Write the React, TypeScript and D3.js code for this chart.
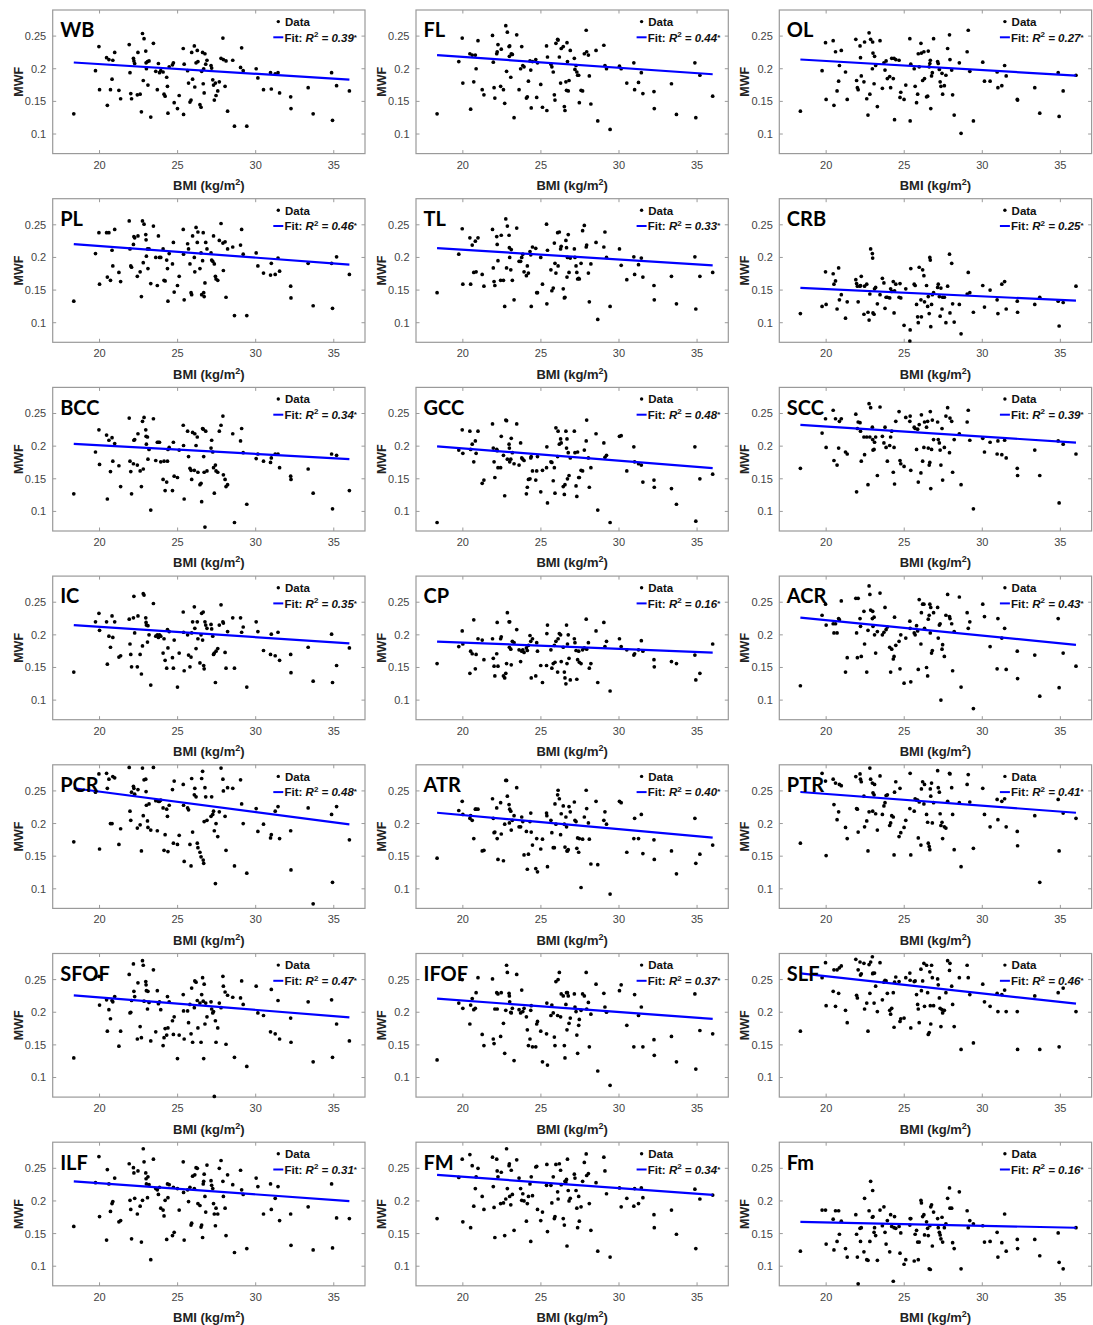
import React from 'react';
import * as d3 from 'd3';

// Shared BMI values (same subjects in each panel)
const BMI = [
  18.35,
  19.74, 19.96, 20.0, 20.45, 20.5, 20.6, 20.7, 20.8, 20.85, 20.97, 21.24, 21.35,
  21.9, 21.95, 22.0, 22.05, 22.17, 22.2, 22.25, 22.42, 22.46, 22.6, 22.68, 22.75, 22.8, 22.85, 22.96, 22.98, 23.0, 23.07, 23.1, 23.17, 23.28,
  23.45, 23.6, 23.7, 23.77, 23.84, 23.92, 24.07, 24.13, 24.2, 24.3, 24.35, 24.38, 24.46, 24.67, 24.73, 24.78, 24.99, 25.1,
  25.36, 25.42, 25.38, 25.64, 25.7, 25.79, 25.86, 25.9, 25.96, 26.07, 26.1, 26.18, 26.26, 26.3, 26.43, 26.5, 26.54, 26.6, 26.64, 26.67, 26.7, 26.75, 26.8, 26.88,
  27.14, 27.18, 27.25, 27.3, 27.35, 27.42, 27.46, 27.57, 27.67, 27.78, 27.9, 27.93, 28.04, 28.1, 28.2, 28.53, 28.64,
  29.03, 29.1, 29.2, 29.43, 30.03, 30.14, 30.5, 30.95, 31.0, 31.25, 31.43, 31.53, 32.24, 32.26, 33.36, 33.68, 34.86, 34.92, 35.18, 36.0,
];

const WB = [
  0.131,
  0.197, 0.234, 0.168, 0.217, 0.144, 0.214, 0.168, 0.184, 0.213, 0.225, 0.167, 0.154,
  0.237, 0.194, 0.162, 0.154, 0.216, 0.212, 0.208, 0.160, 0.225, 0.161, 0.134, 0.254, 0.182, 0.246, 0.227, 0.209, 0.200, 0.211, 0.175, 0.212, 0.126,
  0.239, 0.196, 0.168, 0.208, 0.194, 0.197, 0.195, 0.161, 0.158, 0.187, 0.173, 0.132, 0.203, 0.206, 0.209, 0.148, 0.139, 0.159,
  0.231, 0.207, 0.130, 0.197, 0.178, 0.149, 0.152, 0.225, 0.184, 0.235, 0.172, 0.209, 0.228, 0.211, 0.145, 0.141, 0.196, 0.225, 0.177, 0.200, 0.163, 0.223, 0.207, 0.213,
  0.205, 0.201, 0.183, 0.175, 0.152, 0.178, 0.159, 0.166, 0.180, 0.216, 0.247, 0.214, 0.173, 0.212, 0.135, 0.213, 0.112,
  0.202, 0.232, 0.197, 0.112, 0.200, 0.186, 0.168, 0.194, 0.169, 0.192, 0.194, 0.163, 0.157, 0.139, 0.171, 0.131, 0.194, 0.121, 0.174, 0.166,
];
const FL = [
  0.131,
  0.211, 0.247, 0.178, 0.223, 0.138, 0.221, 0.180, 0.221, 0.200, 0.243, 0.168, 0.160,
  0.251, 0.210, 0.171, 0.155, 0.223, 0.226, 0.237, 0.173, 0.230, 0.168, 0.147, 0.266, 0.196, 0.256, 0.234, 0.219, 0.235, 0.187, 0.223, 0.222, 0.125,
  0.252, 0.168, 0.200, 0.234, 0.205, 0.203, 0.155, 0.157, 0.181, 0.212, 0.198, 0.140, 0.211, 0.214, 0.156, 0.209, 0.176, 0.141,
  0.235, 0.218, 0.136, 0.207, 0.203, 0.195, 0.160, 0.152, 0.239, 0.245, 0.244, 0.218, 0.178, 0.231, 0.234, 0.142, 0.136, 0.180, 0.167, 0.240, 0.211, 0.166, 0.182, 0.228,
  0.216, 0.199, 0.205, 0.195, 0.190, 0.190, 0.148, 0.167, 0.166, 0.223, 0.259, 0.226, 0.221, 0.189, 0.146, 0.228, 0.120,
  0.236, 0.205, 0.200, 0.107, 0.204, 0.200, 0.178, 0.209, 0.168, 0.179, 0.194, 0.162, 0.165, 0.139, 0.177, 0.130, 0.209, 0.125, 0.190, 0.158,
];
const OL = [
  0.135,
  0.197, 0.240, 0.153, 0.243, 0.144, 0.226, 0.166, 0.181, 0.205, 0.228, 0.195, 0.153,
  0.245, 0.182, 0.171, 0.168, 0.235, 0.217, 0.189, 0.180, 0.241, 0.154, 0.129, 0.255, 0.161, 0.245, 0.200, 0.241, 0.224, 0.177, 0.219, 0.205, 0.142,
  0.243, 0.170, 0.209, 0.198, 0.212, 0.185, 0.188, 0.171, 0.216, 0.185, 0.216, 0.122, 0.214, 0.213, 0.156, 0.164, 0.153, 0.175,
  0.246, 0.207, 0.120, 0.200, 0.173, 0.148, 0.161, 0.223, 0.203, 0.239, 0.224, 0.182, 0.226, 0.185, 0.157, 0.158, 0.227, 0.203, 0.208, 0.213, 0.139, 0.189, 0.194, 0.246,
  0.211, 0.208, 0.199, 0.180, 0.173, 0.193, 0.161, 0.174, 0.190, 0.231, 0.252, 0.214, 0.198, 0.160, 0.129, 0.209, 0.101,
  0.226, 0.259, 0.196, 0.120, 0.210, 0.181, 0.181, 0.195, 0.171, 0.174, 0.205, 0.189, 0.153, 0.152, 0.171, 0.132, 0.194, 0.127, 0.166, 0.190,
];
const PL = [
  0.133,
  0.206, 0.238, 0.159, 0.238, 0.170, 0.238, 0.165, 0.211, 0.187, 0.243, 0.177, 0.163,
  0.256, 0.213, 0.187, 0.185, 0.220, 0.232, 0.230, 0.171, 0.233, 0.178, 0.140, 0.256, 0.192, 0.251, 0.235, 0.227, 0.202, 0.213, 0.183, 0.213, 0.160,
  0.248, 0.200, 0.157, 0.233, 0.200, 0.200, 0.213, 0.165, 0.164, 0.196, 0.183, 0.133, 0.206, 0.190, 0.223, 0.147, 0.157, 0.171,
  0.243, 0.135, 0.205, 0.221, 0.213, 0.190, 0.146, 0.143, 0.233, 0.200, 0.178, 0.246, 0.223, 0.239, 0.183, 0.207, 0.143, 0.195, 0.238, 0.146, 0.140, 0.161, 0.223, 0.213,
  0.207, 0.196, 0.194, 0.233, 0.190, 0.171, 0.167, 0.165, 0.226, 0.252, 0.222, 0.180, 0.224, 0.139, 0.213, 0.216, 0.111,
  0.219, 0.243, 0.205, 0.111, 0.207, 0.187, 0.176, 0.173, 0.191, 0.174, 0.199, 0.179, 0.156, 0.138, 0.191, 0.126, 0.191, 0.122, 0.201, 0.174,
];
const TL = [
  0.146,
  0.205, 0.244, 0.159, 0.230, 0.159, 0.219, 0.177, 0.225, 0.178, 0.230, 0.174, 0.156,
  0.243, 0.184, 0.163, 0.157, 0.232, 0.220, 0.195, 0.165, 0.234, 0.165, 0.125, 0.259, 0.184, 0.248, 0.234, 0.215, 0.200, 0.181, 0.212, 0.165, 0.135,
  0.245, 0.194, 0.194, 0.200, 0.205, 0.178, 0.172, 0.187, 0.176, 0.209, 0.204, 0.125, 0.216, 0.214, 0.146, 0.146, 0.200, 0.159,
  0.251, 0.211, 0.129, 0.181, 0.149, 0.153, 0.222, 0.191, 0.176, 0.238, 0.187, 0.239, 0.213, 0.217, 0.152, 0.138, 0.139, 0.226, 0.215, 0.170, 0.200, 0.235, 0.177, 0.199,
  0.213, 0.200, 0.187, 0.177, 0.167, 0.168, 0.167, 0.191, 0.241, 0.249, 0.216, 0.219, 0.176, 0.132, 0.190, 0.223, 0.105,
  0.216, 0.239, 0.200, 0.125, 0.213, 0.188, 0.166, 0.201, 0.174, 0.189, 0.199, 0.170, 0.157, 0.135, 0.171, 0.129, 0.201, 0.121, 0.171, 0.177,
];
const CRB = [
  0.114,
  0.125, 0.178, 0.128, 0.175, 0.159, 0.164, 0.121, 0.184, 0.135, 0.143, 0.107, 0.132,
  0.166, 0.160, 0.156, 0.132, 0.156, 0.157, 0.171, 0.113, 0.156, 0.159, 0.116, 0.104, 0.144, 0.213, 0.206, 0.199, 0.115, 0.113, 0.152, 0.154, 0.129,
  0.143, 0.168, 0.161, 0.122, 0.139, 0.139, 0.138, 0.152, 0.148, 0.163, 0.115, 0.149, 0.159, 0.139, 0.160, 0.138, 0.096, 0.152,
  0.072, 0.183, 0.089, 0.159, 0.157, 0.128, 0.109, 0.100, 0.185, 0.135, 0.109, 0.181, 0.172, 0.132, 0.157, 0.125, 0.140, 0.114, 0.200, 0.196, 0.094, 0.128, 0.143, 0.146,
  0.154, 0.159, 0.140, 0.110, 0.153, 0.121, 0.139, 0.139, 0.100, 0.156, 0.205, 0.115, 0.191, 0.129, 0.101, 0.128, 0.083,
  0.144, 0.177, 0.146, 0.116, 0.157, 0.124, 0.150, 0.135, 0.114, 0.159, 0.163, 0.121, 0.133, 0.116, 0.128, 0.139, 0.133, 0.095, 0.131, 0.156,
];
const BCC = [
  0.127,
  0.191, 0.225, 0.172, 0.217, 0.119, 0.209, 0.161, 0.213, 0.177, 0.204, 0.170, 0.138,
  0.243, 0.177, 0.161, 0.127, 0.173, 0.209, 0.210, 0.171, 0.219, 0.162, 0.138, 0.238, 0.165, 0.244, 0.225, 0.215, 0.203, 0.214, 0.180, 0.195, 0.102,
  0.242, 0.178, 0.206, 0.206, 0.206, 0.176, 0.149, 0.177, 0.132, 0.145, 0.177, 0.195, 0.198, 0.132, 0.206, 0.154, 0.152, 0.194,
  0.232, 0.119, 0.201, 0.223, 0.184, 0.166, 0.163, 0.149, 0.221, 0.163, 0.219, 0.201, 0.214, 0.160, 0.141, 0.143, 0.115, 0.227, 0.226, 0.184, 0.160, 0.076, 0.223, 0.162,
  0.197, 0.209, 0.191, 0.167, 0.128, 0.171, 0.162, 0.160, 0.223, 0.232, 0.246, 0.156, 0.149, 0.138, 0.141, 0.219, 0.083,
  0.208, 0.227, 0.190, 0.111, 0.181, 0.188, 0.177, 0.175, 0.182, 0.188, 0.188, 0.167, 0.154, 0.149, 0.165, 0.128, 0.188, 0.104, 0.186, 0.132,
];
const GCC = [
  0.083,
  0.194, 0.225, 0.189, 0.223, 0.195, 0.203, 0.176, 0.208, 0.189, 0.223, 0.143, 0.148,
  0.234, 0.197, 0.176, 0.152, 0.195, 0.193, 0.167, 0.167, 0.215, 0.186, 0.124, 0.240, 0.239, 0.180, 0.203, 0.197, 0.176, 0.180, 0.212, 0.190, 0.173,
  0.234, 0.171, 0.205, 0.182, 0.180, 0.178, 0.127, 0.137, 0.149, 0.150, 0.182, 0.184, 0.162, 0.148, 0.162, 0.184, 0.130, 0.163,
  0.167, 0.113, 0.199, 0.176, 0.175, 0.147, 0.167, 0.128, 0.228, 0.184, 0.223, 0.203, 0.211, 0.205, 0.138, 0.126, 0.141, 0.223, 0.197, 0.211, 0.150, 0.190, 0.155, 0.182,
  0.223, 0.190, 0.139, 0.123, 0.191, 0.152, 0.152, 0.163, 0.162, 0.194, 0.208, 0.240, 0.182, 0.137, 0.167, 0.219, 0.102,
  0.205, 0.183, 0.186, 0.083, 0.215, 0.216, 0.162, 0.199, 0.176, 0.173, 0.171, 0.145, 0.148, 0.137, 0.135, 0.111, 0.199, 0.085, 0.150, 0.157,
];
const SCC = [
  0.166,
  0.220, 0.242, 0.198, 0.255, 0.178, 0.242, 0.171, 0.197, 0.238, 0.242, 0.191, 0.188,
  0.249, 0.130, 0.227, 0.237, 0.236, 0.223, 0.177, 0.214, 0.187, 0.214, 0.141, 0.265, 0.214, 0.259, 0.229, 0.210, 0.194, 0.195, 0.206, 0.214, 0.155,
  0.260, 0.215, 0.205, 0.229, 0.198, 0.177, 0.201, 0.214, 0.223, 0.160, 0.198, 0.142, 0.238, 0.253, 0.178, 0.173, 0.169, 0.244,
  0.238, 0.163, 0.246, 0.229, 0.227, 0.195, 0.226, 0.145, 0.233, 0.159, 0.248, 0.177, 0.198, 0.237, 0.229, 0.238, 0.197, 0.171, 0.175, 0.253, 0.135, 0.195, 0.240, 0.210,
  0.237, 0.210, 0.205, 0.194, 0.171, 0.227, 0.148, 0.198, 0.246, 0.259, 0.190, 0.243, 0.238, 0.160, 0.210, 0.219, 0.141,
  0.237, 0.255, 0.209, 0.104, 0.212, 0.191, 0.206, 0.188, 0.208, 0.187, 0.209, 0.182, 0.166, 0.155, 0.194, 0.155, 0.208, 0.113, 0.203, 0.188,
];
const IC = [
  0.143,
  0.220, 0.233, 0.207, 0.220, 0.155, 0.198, 0.181, 0.229, 0.196, 0.220, 0.166, 0.168,
  0.224, 0.186, 0.170, 0.151, 0.226, 0.259, 0.203, 0.151, 0.229, 0.170, 0.140, 0.183, 0.263, 0.261, 0.226, 0.219, 0.215, 0.189, 0.214, 0.200, 0.123,
  0.248, 0.198, 0.200, 0.196, 0.200, 0.198, 0.172, 0.194, 0.161, 0.149, 0.208, 0.180, 0.205, 0.165, 0.149, 0.192, 0.120, 0.172,
  0.235, 0.145, 0.204, 0.200, 0.169, 0.151, 0.166, 0.203, 0.220, 0.243, 0.210, 0.179, 0.220, 0.194, 0.157, 0.200, 0.233, 0.192, 0.235, 0.153, 0.148, 0.220, 0.215, 0.210,
  0.216, 0.209, 0.198, 0.170, 0.172, 0.127, 0.175, 0.179, 0.215, 0.246, 0.220, 0.218, 0.173, 0.149, 0.205, 0.226, 0.149,
  0.226, 0.204, 0.212, 0.120, 0.220, 0.205, 0.176, 0.170, 0.201, 0.168, 0.204, 0.161, 0.170, 0.142, 0.181, 0.129, 0.201, 0.127, 0.153, 0.180,
];
const CP = [
  0.156,
  0.182, 0.206, 0.186, 0.141, 0.175, 0.171, 0.223, 0.148, 0.170, 0.194, 0.192, 0.162,
  0.194, 0.164, 0.152, 0.137, 0.171, 0.219, 0.152, 0.194, 0.197, 0.137, 0.134, 0.141, 0.156, 0.234, 0.220, 0.181, 0.220, 0.178, 0.154, 0.190, 0.188,
  0.208, 0.177, 0.159, 0.175, 0.177, 0.173, 0.180, 0.176, 0.184, 0.199, 0.190, 0.134, 0.194, 0.137, 0.188, 0.175, 0.153, 0.127,
  0.153, 0.215, 0.202, 0.177, 0.149, 0.156, 0.184, 0.158, 0.190, 0.143, 0.194, 0.202, 0.200, 0.159, 0.181, 0.143, 0.134, 0.125, 0.215, 0.156, 0.186, 0.200, 0.164, 0.131,
  0.194, 0.188, 0.176, 0.132, 0.162, 0.175, 0.158, 0.156, 0.177, 0.180, 0.224, 0.178, 0.188, 0.149, 0.156, 0.206, 0.127,
  0.219, 0.182, 0.190, 0.114, 0.194, 0.182, 0.177, 0.169, 0.171, 0.177, 0.191, 0.175, 0.162, 0.151, 0.159, 0.156, 0.169, 0.131, 0.141, 0.186,
];
const ACR = [
  0.122,
  0.230, 0.247, 0.215, 0.217, 0.203, 0.217, 0.203, 0.225, 0.223, 0.252, 0.143, 0.165,
  0.256, 0.203, 0.165, 0.256, 0.225, 0.213, 0.167, 0.236, 0.186, 0.143, 0.207, 0.275, 0.262, 0.238, 0.225, 0.236, 0.213, 0.227, 0.200, 0.172, 0.205,
  0.264, 0.200, 0.204, 0.242, 0.208, 0.212, 0.181, 0.143, 0.178, 0.163, 0.167, 0.227, 0.184, 0.190, 0.148, 0.200, 0.126, 0.195,
  0.221, 0.128, 0.210, 0.203, 0.200, 0.214, 0.206, 0.147, 0.254, 0.186, 0.234, 0.247, 0.247, 0.210, 0.150, 0.137, 0.224, 0.230, 0.247, 0.203, 0.242, 0.172, 0.176, 0.234,
  0.242, 0.195, 0.215, 0.217, 0.100, 0.178, 0.185, 0.167, 0.230, 0.262, 0.228, 0.225, 0.217, 0.145, 0.205, 0.258, 0.120,
  0.234, 0.210, 0.220, 0.087, 0.247, 0.228, 0.182, 0.148, 0.225, 0.195, 0.210, 0.147, 0.175, 0.133, 0.169, 0.106, 0.225, 0.119, 0.172, 0.152,
];
const PCR = [
  0.172,
  0.248, 0.276, 0.161, 0.277, 0.254, 0.268, 0.200, 0.200, 0.272, 0.270, 0.168, 0.192,
  0.286, 0.219, 0.205, 0.248, 0.257, 0.254, 0.245, 0.193, 0.252, 0.198, 0.158, 0.285, 0.212, 0.267, 0.268, 0.249, 0.228, 0.204, 0.194, 0.230, 0.190,
  0.286, 0.235, 0.189, 0.234, 0.234, 0.236, 0.224, 0.159, 0.183, 0.222, 0.211, 0.157, 0.228, 0.252, 0.170, 0.265, 0.168, 0.182,
  0.260, 0.142, 0.228, 0.224, 0.221, 0.168, 0.135, 0.269, 0.187, 0.244, 0.254, 0.241, 0.170, 0.163, 0.156, 0.149, 0.269, 0.280, 0.144, 0.139, 0.203, 0.255, 0.241, 0.205,
  0.211, 0.241, 0.214, 0.219, 0.189, 0.108, 0.200, 0.180, 0.218, 0.285, 0.268, 0.250, 0.211, 0.159, 0.255, 0.254, 0.135,
  0.267, 0.230, 0.200, 0.124, 0.223, 0.188, 0.199, 0.178, 0.183, 0.219, 0.226, 0.177, 0.189, 0.129, 0.224, 0.077, 0.214, 0.110, 0.226, 0.175,
];
const ATR = [
  0.147,
  0.220, 0.234, 0.214, 0.208, 0.212, 0.205, 0.177, 0.222, 0.222, 0.222, 0.158, 0.159,
  0.238, 0.208, 0.186, 0.187, 0.224, 0.177, 0.145, 0.232, 0.184, 0.143, 0.199, 0.266, 0.266, 0.242, 0.229, 0.201, 0.222, 0.219, 0.190, 0.205, 0.212,
  0.255, 0.195, 0.195, 0.210, 0.203, 0.152, 0.188, 0.130, 0.153, 0.203, 0.216, 0.187, 0.167, 0.131, 0.177, 0.126, 0.161, 0.176,
  0.216, 0.134, 0.212, 0.205, 0.186, 0.163, 0.163, 0.230, 0.199, 0.244, 0.251, 0.238, 0.183, 0.215, 0.227, 0.199, 0.164, 0.210, 0.195, 0.158, 0.158, 0.160, 0.226, 0.218,
  0.233, 0.205, 0.203, 0.162, 0.178, 0.156, 0.177, 0.102, 0.176, 0.210, 0.251, 0.223, 0.201, 0.176, 0.138, 0.234, 0.137,
  0.205, 0.218, 0.199, 0.092, 0.234, 0.232, 0.156, 0.177, 0.208, 0.177, 0.214, 0.154, 0.175, 0.145, 0.158, 0.123, 0.208, 0.139, 0.153, 0.167,
];
const PTR = [
  0.170,
  0.277, 0.265, 0.151, 0.268, 0.229, 0.262, 0.206, 0.218, 0.260, 0.258, 0.194, 0.177,
  0.272, 0.223, 0.222, 0.187, 0.276, 0.268, 0.264, 0.242, 0.195, 0.204, 0.158, 0.218, 0.285, 0.268, 0.262, 0.219, 0.247, 0.244, 0.260, 0.215, 0.190,
  0.273, 0.214, 0.227, 0.232, 0.243, 0.244, 0.197, 0.201, 0.212, 0.210, 0.152, 0.248, 0.264, 0.180, 0.254, 0.186, 0.194, 0.205,
  0.223, 0.152, 0.277, 0.219, 0.238, 0.236, 0.236, 0.178, 0.233, 0.167, 0.253, 0.264, 0.230, 0.260, 0.214, 0.202, 0.170, 0.165, 0.160, 0.253, 0.242, 0.262, 0.201, 0.232,
  0.281, 0.255, 0.248, 0.215, 0.197, 0.202, 0.177, 0.195, 0.193, 0.234, 0.277, 0.276, 0.255, 0.214, 0.160, 0.232, 0.134,
  0.260, 0.275, 0.233, 0.162, 0.254, 0.214, 0.195, 0.237, 0.206, 0.234, 0.238, 0.195, 0.188, 0.166, 0.212, 0.110, 0.237, 0.158, 0.216, 0.208,
];
const SFOF = [
  0.130,
  0.254, 0.255, 0.211, 0.219, 0.171, 0.204, 0.190, 0.218, 0.216, 0.224, 0.148, 0.171,
  0.258, 0.199, 0.200, 0.218, 0.274, 0.232, 0.224, 0.159, 0.245, 0.178, 0.161, 0.279, 0.272, 0.217, 0.247, 0.242, 0.233, 0.205, 0.232, 0.215, 0.156,
  0.265, 0.170, 0.233, 0.213, 0.216, 0.204, 0.149, 0.161, 0.175, 0.165, 0.224, 0.176, 0.216, 0.187, 0.166, 0.193, 0.129, 0.165,
  0.227, 0.159, 0.202, 0.202, 0.184, 0.212, 0.167, 0.237, 0.154, 0.207, 0.248, 0.246, 0.218, 0.176, 0.214, 0.154, 0.227, 0.253, 0.217, 0.129, 0.243, 0.182, 0.214, 0.193,
  0.216, 0.205, 0.199, 0.201, 0.071, 0.187, 0.154, 0.176, 0.214, 0.207, 0.255, 0.240, 0.231, 0.151, 0.226, 0.223, 0.131,
  0.222, 0.248, 0.212, 0.117, 0.240, 0.199, 0.195, 0.170, 0.235, 0.167, 0.218, 0.159, 0.191, 0.154, 0.216, 0.124, 0.219, 0.131, 0.182, 0.156,
];
const IFOF = [
  0.127,
  0.214, 0.250, 0.206, 0.182, 0.211, 0.221, 0.204, 0.206, 0.230, 0.253, 0.166, 0.149,
  0.251, 0.159, 0.152, 0.205, 0.230, 0.205, 0.228, 0.163, 0.230, 0.183, 0.137, 0.203, 0.272, 0.261, 0.229, 0.225, 0.216, 0.200, 0.199, 0.206, 0.126,
  0.258, 0.204, 0.199, 0.234, 0.201, 0.206, 0.193, 0.173, 0.149, 0.159, 0.203, 0.210, 0.147, 0.147, 0.182, 0.186, 0.171, 0.124,
  0.167, 0.119, 0.214, 0.195, 0.211, 0.199, 0.162, 0.149, 0.247, 0.195, 0.250, 0.261, 0.193, 0.228, 0.225, 0.149, 0.130, 0.212, 0.230, 0.173, 0.230, 0.225, 0.183, 0.191,
  0.228, 0.208, 0.201, 0.165, 0.137, 0.180, 0.189, 0.203, 0.228, 0.225, 0.261, 0.205, 0.215, 0.147, 0.197, 0.243, 0.110,
  0.229, 0.208, 0.200, 0.088, 0.233, 0.242, 0.180, 0.147, 0.227, 0.195, 0.208, 0.147, 0.158, 0.134, 0.163, 0.124, 0.228, 0.113, 0.172, 0.167,
];
const SLF = [
  0.171,
  0.253, 0.276, 0.210, 0.232, 0.265, 0.209, 0.265, 0.229, 0.268, 0.271, 0.203, 0.184,
  0.281, 0.226, 0.222, 0.265, 0.277, 0.257, 0.259, 0.275, 0.205, 0.214, 0.171, 0.273, 0.229, 0.277, 0.285, 0.259, 0.260, 0.214, 0.260, 0.240, 0.201,
  0.276, 0.219, 0.246, 0.249, 0.248, 0.229, 0.203, 0.197, 0.206, 0.230, 0.177, 0.246, 0.254, 0.247, 0.186, 0.190, 0.191, 0.253,
  0.260, 0.176, 0.249, 0.247, 0.248, 0.227, 0.212, 0.205, 0.184, 0.266, 0.233, 0.248, 0.275, 0.209, 0.272, 0.230, 0.166, 0.169, 0.262, 0.210, 0.182, 0.272, 0.253, 0.210,
  0.251, 0.242, 0.222, 0.206, 0.178, 0.204, 0.199, 0.203, 0.230, 0.279, 0.264, 0.275, 0.240, 0.212, 0.178, 0.253, 0.143,
  0.272, 0.253, 0.227, 0.153, 0.243, 0.216, 0.209, 0.229, 0.201, 0.227, 0.234, 0.201, 0.201, 0.143, 0.225, 0.143, 0.230, 0.147, 0.237, 0.201,
];
const ILF = [
  0.161,
  0.228, 0.268, 0.176, 0.140, 0.248, 0.226, 0.184, 0.196, 0.199, 0.235, 0.168, 0.170,
  0.257, 0.201, 0.187, 0.142, 0.251, 0.243, 0.204, 0.180, 0.246, 0.192, 0.137, 0.201, 0.280, 0.260, 0.243, 0.234, 0.226, 0.205, 0.237, 0.225, 0.110,
  0.264, 0.219, 0.217, 0.210, 0.221, 0.189, 0.186, 0.177, 0.201, 0.141, 0.226, 0.205, 0.225, 0.147, 0.221, 0.152, 0.219, 0.186,
  0.260, 0.140, 0.213, 0.217, 0.199, 0.221, 0.163, 0.166, 0.238, 0.219, 0.240, 0.251, 0.250, 0.196, 0.193, 0.160, 0.163, 0.144, 0.226, 0.230, 0.241, 0.207, 0.183, 0.255,
  0.231, 0.224, 0.219, 0.196, 0.180, 0.162, 0.189, 0.180, 0.250, 0.262, 0.230, 0.207, 0.189, 0.147, 0.240, 0.225, 0.121,
  0.247, 0.217, 0.210, 0.127, 0.235, 0.222, 0.180, 0.226, 0.187, 0.204, 0.222, 0.170, 0.180, 0.132, 0.191, 0.125, 0.226, 0.128, 0.174, 0.173,
];
const FM = [
  0.173,
  0.236, 0.264, 0.168, 0.271, 0.159, 0.254, 0.192, 0.219, 0.237, 0.250, 0.207, 0.187,
  0.267, 0.222, 0.190, 0.144, 0.264, 0.246, 0.237, 0.196, 0.244, 0.197, 0.147, 0.203, 0.280, 0.219, 0.254, 0.257, 0.207, 0.194, 0.247, 0.210, 0.155,
  0.263, 0.235, 0.219, 0.201, 0.211, 0.200, 0.169, 0.196, 0.207, 0.226, 0.138, 0.237, 0.208, 0.252, 0.253, 0.187, 0.170, 0.183,
  0.224, 0.153, 0.256, 0.224, 0.197, 0.237, 0.173, 0.176, 0.256, 0.214, 0.203, 0.257, 0.247, 0.225, 0.173, 0.163, 0.230, 0.229, 0.233, 0.131, 0.264, 0.216, 0.200, 0.204,
  0.241, 0.235, 0.216, 0.189, 0.159, 0.207, 0.169, 0.191, 0.230, 0.259, 0.272, 0.239, 0.242, 0.196, 0.155, 0.228, 0.123,
  0.267, 0.246, 0.211, 0.114, 0.220, 0.191, 0.204, 0.192, 0.219, 0.196, 0.220, 0.205, 0.179, 0.159, 0.186, 0.149, 0.218, 0.127, 0.203, 0.209,
];
const Fm = [
  0.123,
  0.186, 0.186, 0.134, 0.172, 0.125, 0.185, 0.138, 0.185, 0.149, 0.169, 0.127, 0.114,
  0.179, 0.149, 0.114, 0.073, 0.158, 0.138, 0.159, 0.122, 0.204, 0.110, 0.109, 0.185, 0.138, 0.230, 0.175, 0.216, 0.176, 0.152, 0.159, 0.147, 0.109,
  0.186, 0.162, 0.191, 0.152, 0.134, 0.170, 0.122, 0.179, 0.161, 0.077, 0.159, 0.176, 0.158, 0.161, 0.120, 0.151, 0.103, 0.110,
  0.163, 0.173, 0.173, 0.108, 0.149, 0.155, 0.137, 0.110, 0.137, 0.201, 0.197, 0.176, 0.179, 0.148, 0.168, 0.158, 0.147, 0.096, 0.162, 0.095, 0.191, 0.194, 0.131, 0.183,
  0.173, 0.159, 0.152, 0.148, 0.142, 0.175, 0.137, 0.159, 0.165, 0.204, 0.220, 0.189, 0.189, 0.136, 0.127, 0.214, 0.096,
  0.185, 0.159, 0.170, 0.165, 0.162, 0.137, 0.138, 0.152, 0.114, 0.136, 0.180, 0.123, 0.141, 0.127, 0.141, 0.116, 0.151, 0.106, 0.096, 0.159,
];

// Panels in reading order (row by row)
const PANEL_NAMES = ['WB', 'FL', 'OL', 'PL', 'TL', 'CRB', 'BCC', 'GCC', 'SCC', 'IC', 'CP', 'ACR', 'PCR', 'ATR', 'PTR', 'SFOF', 'IFOF', 'SLF', 'ILF', 'FM', 'Fm'];
const PANEL_VALUES = [WB, FL, OL, PL, TL, CRB, BCC, GCC, SCC, IC, CP, ACR, PCR, ATR, PTR, SFOF, IFOF, SLF, ILF, FM, Fm];
const R2_LABELS = ['0.39', '0.44', '0.27', '0.46', '0.33', '0.25', '0.34', '0.48', '0.39', '0.35', '0.16', '0.43', '0.48', '0.40', '0.41', '0.47', '0.37', '0.46', '0.31', '0.34', '0.16'];
// Fit line value at min BMI and at max BMI
const FIT_START = [0.2096, 0.2208, 0.2142, 0.2204, 0.2142, 0.1533, 0.2036, 0.1997, 0.2327, 0.2148, 0.1897, 0.2265, 0.2541, 0.2165, 0.2483, 0.2259, 0.2209, 0.2595, 0.2301, 0.2399, 0.1679];
const FIT_END = [0.1834, 0.1916, 0.1896, 0.1891, 0.1880, 0.1338, 0.1802, 0.1662, 0.2054, 0.1869, 0.1729, 0.1846, 0.1988, 0.1785, 0.2165, 0.1921, 0.1897, 0.2131, 0.1998, 0.2092, 0.1589];

const X_DOMAIN = [17, 37];
const Y_DOMAIN = [0.07, 0.29];
const X_TICKS = [20, 25, 30, 35];
const Y_TICKS = [0.1, 0.15, 0.2, 0.25];
const Y_TICK_LABELS = ['0.1', '0.15', '0.2', '0.25'];

const SANS = "'Liberation Sans', Arial, Helvetica, sans-serif";
const TITLE_FONT = "Lato, 'Open Sans', 'Liberation Sans', sans-serif";

const BOX_W = 312.3;
const BOX_H = 143.6;
const LEFT0 = 52.7;
const TOP0 = 10;
const COL_STEP = 363.3;
const ROW_STEP = 188.7;

function Panel({ index }: { index: number }) {
  const col = index % 3;
  const row = Math.floor(index / 3);
  const left = LEFT0 + col * COL_STEP;
  const top = TOP0 + row * ROW_STEP;
  const x = d3.scaleLinear().domain(X_DOMAIN).range([left, left + BOX_W]);
  const y = d3.scaleLinear().domain(Y_DOMAIN).range([top + BOX_H, top]);
  const values = PANEL_VALUES[index];
  const n = Math.min(BMI.length, values.length);
  const [xMin, xMax] = d3.extent(BMI) as [number, number];
  const line = d3.line<[number, number]>().x((d) => x(d[0])).y((d) => y(d[1]));
  const fitPath = line([
    [xMin, FIT_START[index]],
    [xMax, FIT_END[index]],
  ]) as string;
  const axisColor = '#9a9a9a';
  const tickLen = 3.5;
  const bottom = top + BOX_H;
  const right = left + BOX_W;

  return (
    <g>
      <rect x={left} y={top} width={BOX_W} height={BOX_H} fill="#fff" stroke={axisColor} strokeWidth={1.2} />
      {X_TICKS.map((t) => (
        <g key={'xt' + t}>
          <line x1={x(t)} x2={x(t)} y1={bottom} y2={bottom - tickLen} stroke={axisColor} strokeWidth={1} />
          <line x1={x(t)} x2={x(t)} y1={top} y2={top + tickLen} stroke={axisColor} strokeWidth={1} />
          <text x={x(t)} y={bottom + 15} textAnchor="middle" fontFamily={SANS} fontSize={11} fill="#444">
            {t}
          </text>
        </g>
      ))}
      {Y_TICKS.map((t, k) => (
        <g key={'yt' + t}>
          <line x1={left} x2={left + tickLen} y1={y(t)} y2={y(t)} stroke={axisColor} strokeWidth={1} />
          <line x1={right} x2={right - tickLen} y1={y(t)} y2={y(t)} stroke={axisColor} strokeWidth={1} />
          <text x={left - 6.5} y={y(t)} dy="0.36em" textAnchor="end" fontFamily={SANS} fontSize={11} fill="#444">
            {Y_TICK_LABELS[k]}
          </text>
        </g>
      ))}
      {d3.range(n).map((i) => (
        <circle key={i} cx={x(BMI[i])} cy={y(values[i])} r={1.85} fill="#000" />
      ))}
      <path d={fitPath} stroke="#0000ff" strokeWidth={2.2} fill="none" />
      <text x={left + 7.5} y={top + 27.3} fontFamily={TITLE_FONT} fontWeight={700} fontSize={20} fill="#000">
        {PANEL_NAMES[index]}
      </text>
      <circle cx={left + 225.6} cy={top + 11.6} r={1.7} fill="#000" />
      <text x={left + 232.3} y={top + 15.8} fontFamily={SANS} fontWeight="bold" fontSize={11.5} fill="#111">
        Data
      </text>
      <line x1={left + 220.6} x2={left + 230.6} y1={top + 27.3} y2={top + 27.3} stroke="#0000ff" strokeWidth={2} />
      <text x={left + 231.8} y={top + 31.5} fontFamily={SANS} fontWeight="bold" fontSize={11.5} fill="#111">
        {'Fit: '}
        <tspan fontStyle="italic">R</tspan>
        <tspan fontSize={8} dy={-4.5}>2</tspan>
        <tspan dy={4.5} fontStyle="italic">{' = ' + R2_LABELS[index]}</tspan>
        <tspan fontSize={8} dy={-2}>*</tspan>
      </text>
      <text x={left + BOX_W / 2} y={top + 180} textAnchor="middle" fontFamily={SANS} fontWeight="bold" fontSize={13} fill="#222">
        BMI (kg/m
        <tspan fontSize={9} dy={-5}>2</tspan>
        <tspan dy={5}>)</tspan>
      </text>
      <text
        transform={`translate(${left - 30},${top + BOX_H / 2}) rotate(-90)`}
        textAnchor="middle"
        fontFamily={SANS}
        fontWeight="bold"
        fontSize={12.5}
        fill="#222"
      >
        MWF
      </text>
    </g>
  );
}

export default function App() {
  return (
    <svg
      width={1093}
      height={1325}
      viewBox="0 0 1093 1325"
      style={{ position: 'absolute', left: 0, top: 0, background: '#fff', display: 'block' }}
    >
      <rect x={0} y={0} width={1093} height={1325} fill="#fff" />
      {PANEL_NAMES.map((name, i) => (
        <Panel key={name} index={i} />
      ))}
    </svg>
  );
}
